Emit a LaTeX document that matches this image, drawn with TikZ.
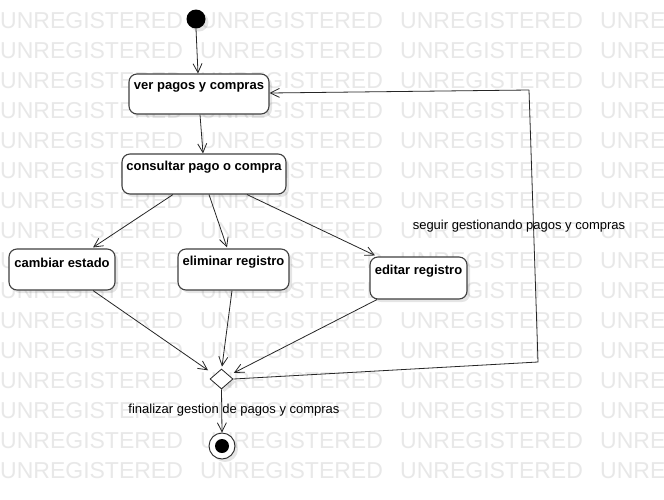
\documentclass[tikz,border=0pt]{standalone}
\usepackage{fontspec}
\setmainfont{Liberation Sans}
\usetikzlibrary{arrows.meta,shapes.geometric,shadows}
\begin{document}
\begin{tikzpicture}[x=1pt,y=-1pt,
  shd/.style={drop shadow={shadow xshift=3pt,shadow yshift=-3pt,opacity=0.10,fill=black}},
  wm/.style={anchor=base west,inner sep=0pt,text=black!9,font=\fontsize{23}{23}\selectfont},
  actbox/.style={draw=black!75,line width=1.1pt,rounded corners=8pt,fill=white,shd,inner sep=0pt},
  boxtxt/.style={font=\bfseries\fontsize{13}{15}\selectfont,yshift=7pt},
  flow/.style={draw=black!85,line width=0.8pt,-{Straight Barb[length=9pt,width=9pt,line width=0.8pt]}},
  plain/.style={draw=black!85,line width=0.8pt},
  lbl/.style={font=\fontsize{13}{15}\selectfont,inner sep=0pt}]
\useasboundingbox (0,0) rectangle (664,499);
\clip (0,0) rectangle (664,499);
\fill[white] (0,0) rectangle (664,499);
% watermark
\foreach \r in {0,...,15}{
  \foreach \c in {0,1,2,3}{
    \node[wm] at (200*\c,28+30*\r) {UNREGISTERED};
  }
}
% nodes
\node[circle,fill=black,minimum size=19pt,inner sep=0pt,shd] (init) at (196,19) {};
\node[actbox,minimum width=140pt,minimum height=40pt,label={[boxtxt]center:ver pagos y compras}] (ver) at (199,94) {};
\node[actbox,minimum width=164pt,minimum height=40pt,label={[boxtxt]center:consultar pago o compra}] (cons) at (204,174) {};
\node[actbox,minimum width=106pt,minimum height=41pt,label={[boxtxt]center:cambiar estado}] (camb) at (62,269.5) {};
\node[actbox,minimum width=111pt,minimum height=41pt,label={[boxtxt]center:eliminar registro}] (elim) at (233.5,269.5) {};
\node[actbox,minimum width=97pt,minimum height=42pt,label={[boxtxt]center:editar registro}] (edit) at (418.5,278) {};
\node[diamond,draw=black!85,line width=0.8pt,fill=white,minimum width=23pt,minimum height=20pt,inner sep=0pt,shd] (dec) at (221.5,379) {};
\node[circle,draw=black!85,line width=0.9pt,fill=white,minimum size=26pt,inner sep=0pt,shd] (fin) at (222,446) {};
\node[circle,fill=black,minimum size=14pt,inner sep=0pt] (finin) at (fin.center) {};
\coordinate (c1) at (538,362);
\coordinate (c2) at (529,90);
% labels
\node[lbl] (l1) at (519,226) {seguir gestionando pagos y compras};
\node[lbl] (l2) at (234,410) {finalizar gestion de pagos y compras};
% connectors
\draw[flow] (init.south) -- ([shift={(-1,0)}]ver.north);
\draw[flow] ([shift={(1,0)}]ver.south) -- ([shift={(-1,0)}]cons.north);
\draw[flow] ([shift={(-31,0)}]cons.south) -- ([shift={(31,-1)}]camb.north);
\draw[flow] ([shift={(5,0)}]cons.south) -- ([shift={(-6.5,-1)}]elim.north);
\draw[flow] ([shift={(43,0)}]cons.south) -- ([shift={(-43.5,-1)}]edit.north);
\draw[flow] ([shift={(31,0)}]camb.south) -- ([shift={(-7.5,-3.5)}]dec.north west);
\draw[flow] ([shift={(-1.5,0)}]elim.south) -- ([shift={(0.5,-2)}]dec.north);
\draw[flow] ([shift={(-41.5,0)}]edit.south) -- ([shift={(6.5,-1)}]dec.north east);
\draw[plain] (dec.east) -- (c1) -- (c2);
\draw[flow] (c2) -- ([shift={(0,-1)}]ver.east);
\draw[flow] (dec.south) -- (fin.north);
\end{tikzpicture}
\end{document}
